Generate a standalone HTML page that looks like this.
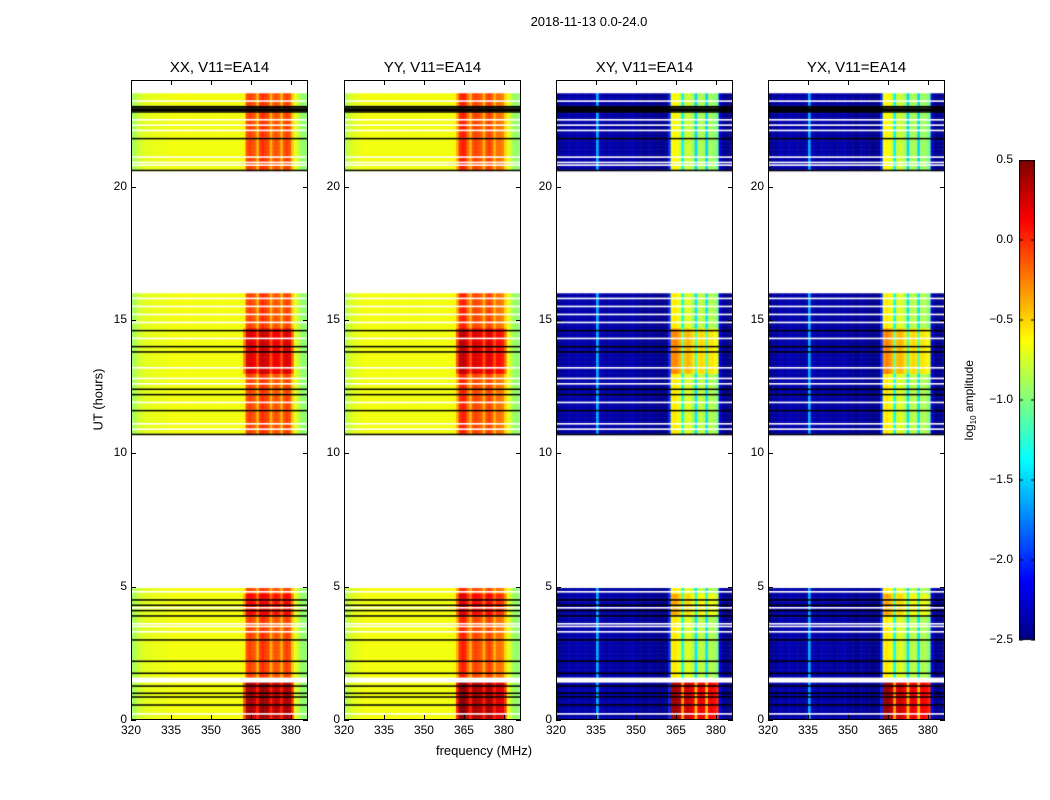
<!DOCTYPE html>
<html><head><meta charset="utf-8">
<style>
body{margin:0;background:#fff;}
#root{position:relative;width:1050px;height:800px;background:#fff;font-family:"Liberation Sans","DejaVu Sans",sans-serif;color:#000;overflow:hidden;}
.t{position:absolute;white-space:nowrap;}
canvas{position:absolute;}
</style></head>
<body>
<div id="root">
<div class="t" style="left:489px;top:14px;width:200px;text-align:center;font-size:13px;">2018-11-13 0.0-24.0</div>
<div class="t" style="left:384px;top:743px;width:200px;text-align:center;font-size:13px;">frequency (MHz)</div>
<div class="t" style="left:48px;top:392px;width:100px;text-align:center;font-size:13px;transform:rotate(-90deg);">UT (hours)</div>
<div class="t" style="left:920px;top:392px;width:100px;text-align:center;font-size:12px;transform:rotate(-90deg);">log<sub style="font-size:8px">10</sub> amplitude</div>
<canvas id="cb" style="left:1019px;top:160px" width="16" height="481"></canvas>
</div>
<script>
// ---- data ----
const freqStart = 320; // MHz, 1 MHz channels
const profXX = [-0.9,-0.85,-0.8,-0.75,-0.72,-0.7,-0.7,-0.7,-0.68,-0.68,-0.68,-0.68,-0.68,-0.68,-0.66,-0.66,-0.66,-0.66,-0.66,-0.66,-0.66,-0.66,-0.66,-0.66,-0.66,-0.66,-0.66,-0.66,-0.66,-0.66,-0.66,-0.66,-0.66,-0.66,-0.66,-0.66,-0.66,-0.66,-0.66,-0.66,-0.66,-0.66,-0.6,-0.1,-0.05,-0.1,-0.15,-0.4,-0.05,-0.0,-0.05,-0.1,-0.4,-0.15,-0.1,-0.15,-0.4,-0.1,-0.05,-0.1,-0.45,-0.7,-0.75,-0.9,-0.95,-0.95];
const profYY = [-0.85,-0.8,-0.75,-0.72,-0.7,-0.68,-0.68,-0.66,-0.66,-0.66,-0.66,-0.66,-0.66,-0.66,-0.66,-0.66,-0.66,-0.66,-0.66,-0.66,-0.66,-0.66,-0.66,-0.66,-0.66,-0.66,-0.66,-0.66,-0.66,-0.66,-0.66,-0.66,-0.66,-0.66,-0.66,-0.66,-0.66,-0.66,-0.66,-0.66,-0.66,-0.6,-0.4,0.0,0.05,0.0,-0.2,-0.4,-0.1,-0.05,-0.1,-0.15,-0.4,-0.1,-0.05,-0.15,-0.4,-0.2,-0.2,-0.25,-0.5,-0.7,-0.75,-0.9,-0.95,-0.95];
const profXY = [-2.45,-2.45,-2.4,-2.4,-2.35,-2.35,-2.4,-2.35,-2.35,-2.35,-2.4,-2.35,-2.4,-2.4,-2.35,-1.6,-2.35,-2.35,-2.4,-2.4,-2.35,-2.35,-2.4,-2.4,-2.4,-2.4,-2.4,-2.35,-2.35,-2.4,-2.4,-2.4,-2.45,-2.45,-2.4,-2.4,-2.4,-2.45,-2.45,-2.45,-2.45,-2.45,-2.0,-0.65,-0.6,-0.65,-0.75,-1.4,-0.8,-0.75,-0.8,-0.9,-1.5,-0.9,-0.85,-0.9,-1.5,-0.9,-0.9,-0.95,-1.05,-2.2,-2.45,-2.45,-2.45,-2.45];
const blockStart = [0.0, 1.6, 10.7, 20.6];
const blockEnd = [1.4, 4.95, 16.0, 23.5];
const hotOffsetXX = [0.45, 0.0, 0.0, 0.0];
const hotOffsetXY = [1.05, 0.05, 0.05, 0.0];
const brightStart = [13.0, 3.9];
const brightEnd = [14.7, 4.7];
const brightOffset = [0.3, 0.2];
const blackLines = [0.56,0.86,1.0,1.27,1.75,2.2,3.0,3.9,4.1,4.3,4.5,11.6,12.2,12.4,13.8,14.0,14.6,21.8,22.8,22.85,22.9,22.95,23.0];
const whiteLines = [0.22,1.45,1.5,1.55,3.3,3.5,3.6,4.2,4.8,10.9,11.1,11.9,12.6,12.8,13.2,14.3,14.9,15.2,15.5,15.8,20.8,20.9,21.1,22.1,22.3,22.5,23.2];
const panelTitles = ["XX, V11=EA14","YY, V11=EA14","XY, V11=EA14","YX, V11=EA14"];
const panelLeft = [131,344,556,768];
const xTicks = [320,335,350,365,380];
const yTicks = [0,5,10,15,20];
const cbTicks = [0.5,0.0,-0.5,-1.0,-1.5,-2.0,-2.5];
// ---- scales ----
const TOP=80,H=640,W=177,XMIN=320,XMAX=386.4,VMIN=-2.5,VMAX=0.5;
const xs = f => (f-XMIN)/(XMAX-XMIN)*W;
const ys = h => H - h/24*H;
function jet(v){
  let t=(v-VMIN)/(VMAX-VMIN); t=Math.max(0,Math.min(1,t));
  const c=x=>Math.round(255*Math.max(0,Math.min(1,x)));
  return `rgb(${c(1.5-Math.abs(4*t-3))},${c(1.5-Math.abs(4*t-2))},${c(1.5-Math.abs(4*t-1))})`;
}
const root=document.getElementById('root');
const profs=[profXX,profYY,profXY,profXY];
const offs=[hotOffsetXX,hotOffsetXX,hotOffsetXY,hotOffsetXY];
panelLeft.forEach((L,p)=>{
  const cv=document.createElement('canvas');
  
  
  cv.width=W;cv.height=H;cv.style.left=L+'px';cv.style.top=TOP+'px';
  root.appendChild(cv);
  const g=cv.getContext('2d');
  const prof=profs[p];
  blockStart.forEach((bs,b)=>{
    const be=blockEnd[b];
    for(let h=bs;h<be-1e-6;h+=0.05){
      let extra=0;
      brightStart.forEach((s,k)=>{if(h>=s&&h<brightEnd[k])extra=brightOffset[k];});
      prof.forEach((v,i)=>{
        const hot = p<2 ? (i>41 && i<61) : (v>-1.6 && i>40);
        const val = v + (hot ? offs[p][b]+extra : 0);
        g.fillStyle=jet(val);
        const x0=xs(freqStart+i),x1=xs(freqStart+i+1);
        const y0=ys(Math.min(h+0.05,be)),y1=ys(h);
        g.fillRect(x0,y0,x1-x0+0.5,y1-y0+0.5);
      });
    }
  });
  whiteLines.forEach(h=>{g.fillStyle='#fff';g.fillRect(0,ys(h)-1,W,1.6);});
  blackLines.forEach(h=>{g.fillStyle='#000';g.fillRect(0,ys(h)-0.8,W,1.5);});
  [20.6,10.7].forEach(h=>{g.fillStyle='#000';g.fillRect(0,ys(h)-1,W,1.5);});
  const fr=document.createElement('div');
  
  
  fr.style.cssText=`position:absolute;left:${L}px;top:${TOP}px;width:${W-2}px;height:${H-2}px;border:1px solid #000;`;
  root.appendChild(fr);
  const ti=document.createElement('div');
  ti.className='t';
  
  
  ti.style.cssText=`left:${L}px;top:59px;width:${W}px;text-align:center;font-size:15px;`;
  ti.textContent=panelTitles[p];
  root.appendChild(ti);
  xTicks.forEach(f=>{
    const x=L+xs(f);
    [TOP+H-5,TOP].forEach(y=>{
      const tk=document.createElement('div');
      
      
      tk.style.cssText=`position:absolute;left:${x}px;top:${y}px;width:1px;height:5px;background:#000`;
      root.appendChild(tk);
    });
    const lb=document.createElement('div');
    lb.className='t';
    
    
    lb.style.cssText=`left:${x-20}px;top:${TOP+H+3}px;width:40px;text-align:center;font-size:12px;`;
    lb.textContent=f;
    root.appendChild(lb);
  });
  yTicks.forEach(v=>{
    const y=TOP+ys(v);
    [L,L+W-5].forEach(x=>{
      const tk=document.createElement('div');
      
      
      tk.style.cssText=`position:absolute;left:${x}px;top:${y}px;width:5px;height:1px;background:#000`;
      root.appendChild(tk);
    });
    const lb=document.createElement('div');
    lb.className='t';
    
    
    lb.style.cssText=`left:${L-44}px;top:${y-8}px;width:40px;text-align:right;font-size:12px;`;
    lb.textContent=v;
    root.appendChild(lb);
  });
});
const cb=document.getElementById('cb').getContext('2d');
for(let i=0;i<480;i++){cb.fillStyle=jet(VMAX-(i/480)*(VMAX-VMIN));cb.fillRect(0,i,16,1);}
cb.strokeStyle='#000';cb.strokeRect(0.5,0.5,15,479);
cbTicks.forEach(v=>{
  const y=160+(VMAX-v)/(VMAX-VMIN)*480;
  cb.fillStyle='#000';cb.fillRect(0,y-160-0.5,4,1);cb.fillRect(12,y-160-0.5,4,1);
  const lb=document.createElement('div');
  lb.className='t';
  
  
  lb.style.cssText=`left:973px;top:${y-8}px;width:40px;text-align:right;font-size:12px;`;
  lb.textContent=v.toFixed(1).replace('-','\u2212');
  root.appendChild(lb);
});
</script>
</body></html>
